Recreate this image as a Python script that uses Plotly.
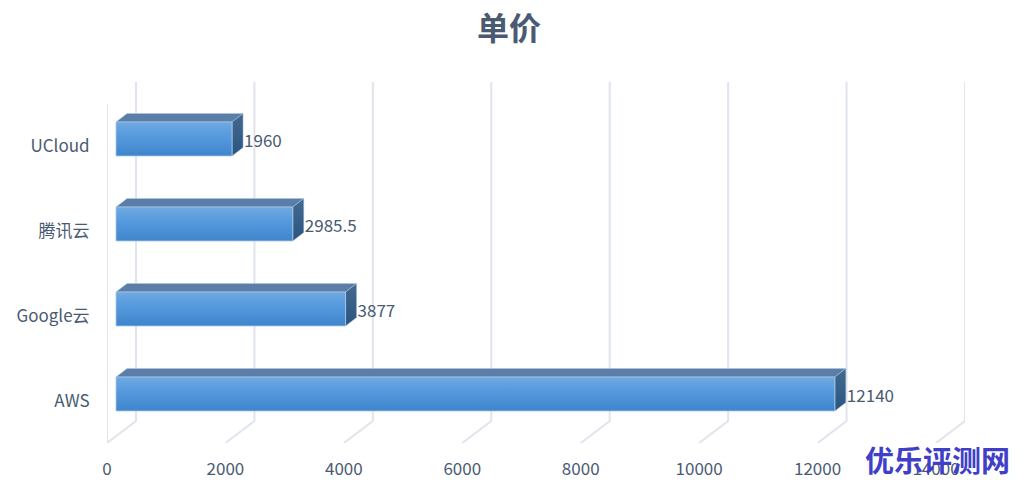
import plotly.graph_objects as go

categories = ["AWS", "Google云", "腾讯云", "UCloud"]
values = [12140, 3877, 2985.5, 1960]
x_ticks = [0, 2000, 4000, 6000, 8000, 10000, 12000, 14000]

FONT = "Noto Sans CJK SC"
TXT = "#4a5a72"
GRID = "#e0e4ec"
PAGE = 8
W, H = 1024 - PAGE, 487 - PAGE
L, R, T, B = 107 - PAGE, 59, 82 - PAGE, 44
PX_PER_UNIT = 858 / 14490
PX_PER_CAT = 85
XR = [0, (W - L - R) / PX_PER_UNIT]
Y0 = -49 / PX_PER_CAT
YR = [Y0, Y0 + (H - T - B) / PX_PER_CAT]

dx_wall = 29 / PX_PER_UNIT
dy_wall = 22 / PX_PER_CAT
bar_start = 9 / PX_PER_UNIT
dx_bar = 11 / PX_PER_UNIT
dy_bar = 8.5 / PX_PER_CAT
half = 17 / PX_PER_CAT
label_drop = 7 / PX_PER_CAT
value_gap = 1 / PX_PER_UNIT
value_lift = -4 / PX_PER_CAT

fig = go.Figure()

# wall and floor lines
gx, gy = [], []
for t in x_ticks:
    gx += [t, t + dx_wall, t + dx_wall, None]
    gy += [Y0, Y0 + dy_wall, YR[1], None]
gx += [0, 0, None]
gy += [Y0, YR[1] - dy_wall, None]
fig.add_trace(go.Scatter(x=gx, y=gy, mode="lines", line=dict(color=GRID, width=2), hoverinfo="skip"))

# 3D bars
for i, v in enumerate(values):
    x0, x1 = bar_start, bar_start + v
    y0, y1 = i - half, i + half
    fig.add_trace(go.Scatter(
        x=[x0, x1, x1 + dx_bar, x0 + dx_bar, x0], y=[y1, y1, y1 + dy_bar, y1 + dy_bar, y1],
        mode="lines", fill="toself", fillcolor="#5a7ea8",
        line=dict(color="#a9c6e4", width=0.5), hoverinfo="skip"))
    fig.add_trace(go.Scatter(
        x=[x1, x1 + dx_bar, x1 + dx_bar, x1, x1], y=[y0, y0 + dy_bar, y1 + dy_bar, y1, y0],
        mode="lines", fill="toself",
        fillgradient=dict(type="vertical", colorscale=[[0, "#2a5580"], [1, "#44698f"]]),
        line=dict(color="#a9c6e4", width=0.5), hoverinfo="skip"))
    fig.add_trace(go.Scatter(
        x=[x0, x1, x1, x0, x0], y=[y0, y0, y1, y1, y0],
        mode="lines", fill="toself",
        fillgradient=dict(type="vertical", colorscale=[[0, "#3f85cc"], [0.6, "#579ade"], [1, "#70a9e0"]]),
        line=dict(color="#a9c9ea", width=0.8), name=categories[i],
        hovertemplate=f"{categories[i]}: {v}<extra></extra>"))

# value labels
fig.add_trace(go.Scatter(
    x=[bar_start + v + dx_bar + value_gap for v in values],
    y=[i + value_lift for i in range(len(values))],
    mode="text", text=[str(v) for v in values], textposition="middle right",
    textfont=dict(family=FONT, size=17, color=TXT), hoverinfo="skip", cliponaxis=False))

fig.update_layout(
    width=W, height=H, autosize=False, showlegend=False,
    margin=dict(l=L, r=R, t=T, b=B),
    paper_bgcolor="white", plot_bgcolor="white",
    font=dict(family=FONT, size=17, color=TXT),
    title=dict(text="单价", x=(509 - PAGE) / W, xanchor="center", y=1 - (29 - PAGE) / H, yanchor="middle",
               font=dict(family=FONT, size=32, color=TXT, weight="bold")),
    xaxis=dict(range=XR, tickvals=x_ticks, ticktext=[str(t) for t in x_ticks], showgrid=False, zeroline=False,
               showline=False, ticks="outside", ticklen=11, tickcolor="rgba(0,0,0,0)", automargin=False,
               tickfont=dict(family=FONT, size=17, color=TXT)),
    yaxis=dict(range=YR, tickvals=[i - label_drop for i in range(len(categories))], ticktext=categories,
               showgrid=False, zeroline=False, showline=False, ticks="outside", ticklen=13, automargin=False,
               tickcolor="rgba(0,0,0,0)", tickfont=dict(family=FONT, size=17, color=TXT)),
    annotations=[dict(text="<b>优乐评测网</b>", xref="paper", yref="paper",
                      x=(937 - PAGE - L) / (W - L - R), y=(H - B - (458.5 - PAGE)) / (H - T - B),
                      xanchor="center", yanchor="middle", showarrow=False,
                      font=dict(family=FONT, size=29, color="#3f3fc8"))],
)
fig.write_html("out.html")
